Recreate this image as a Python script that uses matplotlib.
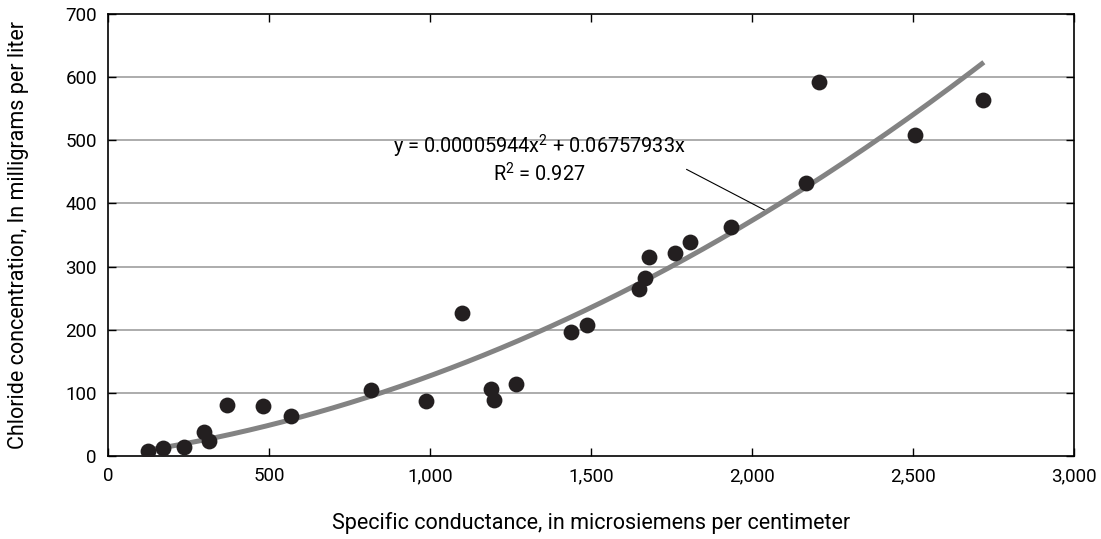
import numpy as np
import matplotlib.pyplot as plt
from matplotlib.ticker import FuncFormatter

# Specific conductance (uS/cm) and chloride (mg/L) samples
conductance = [124, 171, 236, 298, 314, 370, 481, 568, 817, 988, 1099, 1190,
               1199, 1267, 1438, 1488, 1649, 1668, 1680, 1761, 1807, 1935,
               2168, 2208, 2506, 2717]
chloride = [8, 13, 14, 38, 24, 81, 79, 63, 105, 87, 226, 106,
            89, 114, 196, 207, 264, 282, 315, 321, 339, 363,
            432, 592, 508, 564]

# Quadratic fit through the origin
coef_a = 0.00005944
coef_b = 0.06757933
r_squared = 0.927
fit_range = [124, 2720]

x_ticks = [0, 500, 1000, 1500, 2000, 2500, 3000]
y_ticks = [0, 100, 200, 300, 400, 500, 600, 700]

plt.rcParams['font.family'] = ['Roboto', 'DejaVu Sans']
plt.rcParams['mathtext.fontset'] = 'custom'
plt.rcParams['mathtext.rm'] = 'Roboto'

fig = plt.figure(figsize=(11.01, 5.39), dpi=100)
ax = fig.add_axes([108 / 1101, 1 - 456 / 539, 966 / 1101, 442 / 539])

for yv in y_ticks[1:-1]:
    ax.axhline(yv, color='#a6a6a6', lw=1.3, zorder=1)

xs = np.linspace(fit_range[0], fit_range[1], 200)
ax.plot(xs, coef_a * xs ** 2 + coef_b * xs, color='#838383', lw=3.6,
        solid_capstyle='butt', zorder=3)
ax.scatter(conductance, chloride, s=130, color='#231f20', zorder=4,
           linewidths=0)

x_arrow = 2047
ax.annotate('', xy=(x_arrow, coef_a * x_arrow ** 2 + coef_b * x_arrow),
            xytext=(1789, 456),
            arrowprops=dict(arrowstyle='-', color='black', lw=0.8),
            zorder=2)
ax.text(1340, 470,
        'y = 0.00005944x$^\\mathrm{2}$ + 0.06757933x\nR$^\\mathrm{2}$ = %.3f' % r_squared,
        ha='center', va='center', fontsize=14.3, linespacing=1.15, zorder=5)

ax.set_xlim(0, 3000)
ax.set_ylim(0, 700)
ax.set_xticks(x_ticks)
ax.set_yticks(y_ticks)
ax.xaxis.set_major_formatter(FuncFormatter(lambda v, p: '{:,}'.format(int(v))))
ax.tick_params(direction='in', top=True, right=True, length=6, width=1,
               labelsize=13.5, pad=8)
for sp in ax.spines.values():
    sp.set_linewidth(1.2)

ax.set_xlabel('Specific conductance, in microsiemens per centimeter',
              fontsize=15.5, labelpad=19)
ax.set_ylabel('Chloride concentration, In milligrams per liter',
              fontsize=15.5, labelpad=26)

fig.savefig('out.png', dpi=100)
